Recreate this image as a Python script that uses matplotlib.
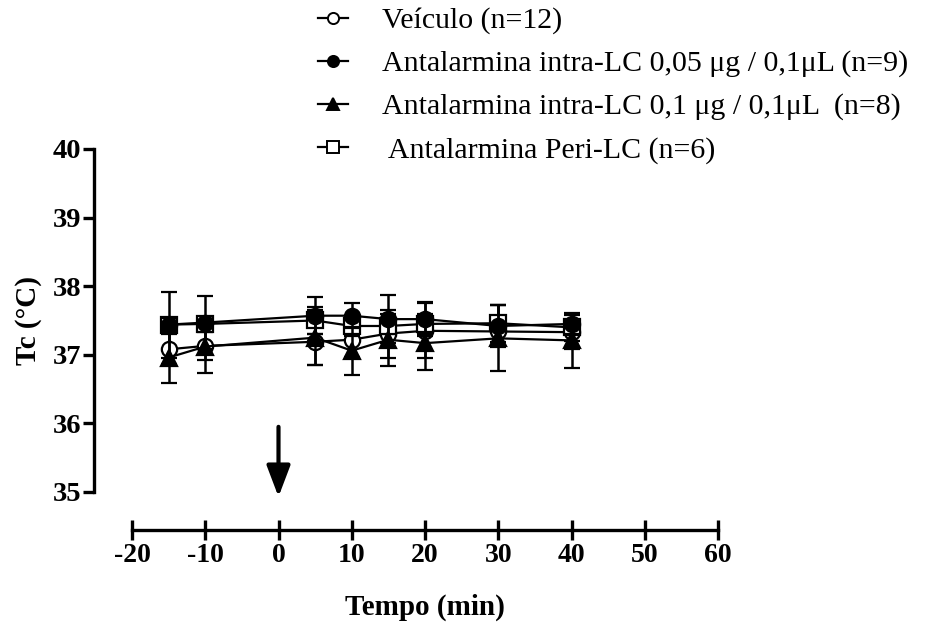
import numpy as np
import matplotlib
matplotlib.use('Agg')
import matplotlib.pyplot as plt
from matplotlib.lines import Line2D

plt.rcParams['font.family'] = ['Liberation Serif', 'DejaVu Serif']
plt.rcParams['axes.unicode_minus'] = False

# Tc (°C) over time (min), mean and SEM
tempo = [-15, -10, 5, 10, 15, 20, 30, 40]

veiculo = [37.08, 37.13, 37.19, 37.22, 37.31, 37.35, 37.34, 37.33]
veiculo_sem = [0.22, 0.20, 0.34, 0.25, 0.35, 0.40, 0.20, 0.25]

ant_005 = [37.44, 37.47, 37.57, 37.57, 37.52, 37.52, 37.42, 37.45]
ant_005_sem = [0.10, 0.39, 0.27, 0.18, 0.35, 0.25, 0.30, 0.15]

ant_01 = [36.96, 37.12, 37.25, 37.06, 37.22, 37.17, 37.24, 37.21]
ant_01_sem = [0.37, 0.38, 0.40, 0.35, 0.38, 0.39, 0.48, 0.40]

peri = [37.44, 37.45, 37.50, 37.42, 37.42, 37.45, 37.46, 37.40]
peri_sem = [0.48, 0.10, 0.20, 0.15, 0.12, 0.15, 0.27, 0.20]

labels = ['Veículo (n=12)',
          'Antalarmina intra-LC 0,05 μg / 0,1μL (n=9)',
          'Antalarmina intra-LC 0,1 μg / 0,1μL  (n=8)',
          ' Antalarmina Peri-LC (n=6)']

fig = plt.figure(figsize=(9.5, 6.26), dpi=100)
ax = fig.add_axes([132/950, 1 - 492/626, (718-132)/950, (492-149)/626])

common = dict(color='black', lw=1.6, capsize=6, capthick=2.2, elinewidth=1.8,
              markeredgewidth=1.6, clip_on=False)
ax.errorbar(tempo, veiculo, yerr=veiculo_sem, marker='o', ms=11,
            mfc='white', mec='black', zorder=3, **common)
ax.errorbar(tempo, peri, yerr=peri_sem, marker='s', ms=11,
            mfc='white', mec='black', zorder=4, **common)
ax.errorbar(tempo, ant_01, yerr=ant_01_sem, marker='^', ms=11,
            mfc='black', mec='black', zorder=5, **common)
ax.errorbar(tempo, ant_005, yerr=ant_005_sem, marker='o', ms=11,
            mfc='black', mec='black', zorder=6, **common)

# injection arrow at t = 0
ax.annotate('', xy=(0, 34.93), xytext=(0, 35.95),
            arrowprops=dict(arrowstyle='-|>,head_width=0.72,head_length=1.9',
                            mutation_scale=10, color='black', lw=3,
                            shrinkA=0, shrinkB=0),
            annotation_clip=False)

ax.set_xlim(-20, 60)
ax.set_ylim(35, 40)
ax.set_xticks(np.arange(-20, 61, 10))
ax.set_yticks(np.arange(35, 41, 1))

for s in ['top', 'right']:
    ax.spines[s].set_visible(False)
ax.spines['left'].set_position(('outward', 27.4))
ax.spines['bottom'].set_position(('outward', 27.4))
ax.spines['left'].set_linewidth(2.4)
ax.spines['bottom'].set_linewidth(2.4)
ax.tick_params(axis='y', direction='out', length=8, width=2.4, pad=1, labelsize=20.5)
ax.tick_params(axis='x', direction='inout', length=15, width=2.4, pad=2, labelsize=20)
for lab in ax.get_xticklabels() + ax.get_yticklabels():
    lab.set_fontweight('bold')

ax.set_xlabel('Tempo (min)', fontsize=21, fontweight='bold', labelpad=18)
ax.set_ylabel('Tc (°C)', fontsize=21, fontweight='bold', labelpad=8)

lw_leg = dict(color='black', lw=1.6, markeredgewidth=1.4, ms=8)
leg_handles = [Line2D([], [], marker='o', mfc='white', **lw_leg),
               Line2D([], [], marker='o', mfc='black', **lw_leg),
               Line2D([], [], marker='^', mfc='black', **lw_leg),
               Line2D([], [], marker='s', mfc='white', **lw_leg)]
fig.legend(leg_handles, labels, loc='upper left',
           bbox_to_anchor=(297/950, 1.022), frameon=False,
           fontsize=21.5, handlelength=1.0, handletextpad=1.15,
           labelspacing=0.53, borderpad=0.2)

fig.savefig('out.png', dpi=100)
